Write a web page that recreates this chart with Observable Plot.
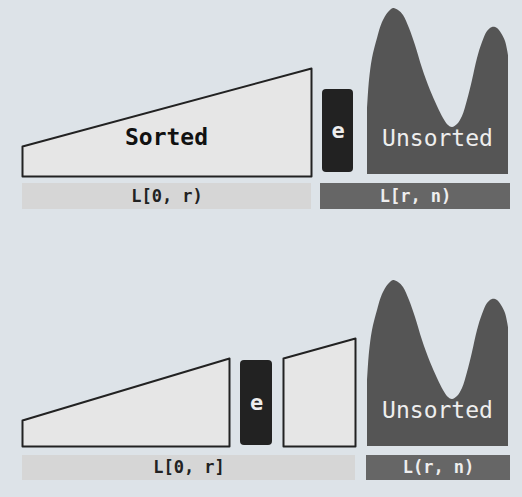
<!DOCTYPE html>
<html><head><meta charset="utf-8">
<script src="https://cdn.jsdelivr.net/npm/d3@7"></script>
<script src="https://cdn.jsdelivr.net/npm/@observablehq/plot@0.6"></script>
<style>body{margin:0;background:#dde3e8;}</style>
</head><body>
<div id="chart"></div>
<script>
// polygons: [id, x, y]
const sortedShapes = [
  ["s1",22,176],["s1",22,146],["s1",311,68],["s1",311,176],
  ["s2",22,446],["s2",22,420],["s2",229,358],["s2",229,446],
  ["s3",283,446],["s3",283,358],["s3",355,338],["s3",355,446]
];
// unsorted outline (top edge), x and y offset per panel
const unsortedX = [367,369,372,377,382,388,393,398,403,409,415,422,430,437,443,448,452,457,462,467,472,477,482,487,492,497,501,505,508];
const unsortedY = [110,80,58,38,22,12,8,10,15,28,45,68,90,106,118,125,127,124,116,100,80,58,42,31,27,28,33,41,55];
const panelOffsets = [0,272];
const eBoxes = [[322,89,353,172],[240,360,272,445]];
const bars = [
  [22,183,311,209,"L[0, r)","#d6d6d6","#222"],
  [320,183,510,209,"L[r, n)","#666","#eee"],
  [22,455,355,480,"L[0, r]","#d6d6d6","#222"],
  [366,455,510,480,"L(r, n)","#666","#eee"]
];
const sortedWord = [[166,137,"Sorted"]];
const unsortedWords = [[437,138,"Unsorted"],[437,410,"Unsorted"]];

const unsorted = panelOffsets.flatMap((o,k) => unsortedX.map((x,i) => ({k, x, y: unsortedY[i]+o, b: 174+o})));
const font = "DejaVu Sans Mono";

const chart = Plot.plot({
  width: 522, height: 497,
  margin: 0,
  style: {background: "#dde3e8", fontFamily: font},
  x: {domain: [0,522], axis: null},
  y: {domain: [0,497], range: [0,497], axis: null},
  marks: [
    Plot.areaY(unsorted, {x: "x", y1: "b", y2: "y", z: "k", fill: "#555", curve: "catmull-rom"}),
    Plot.rect(unsorted.filter(d => d.x === 508), {x1: 500, x2: 508, y1: d => d.y, y2: "b", fill: "#555"}),
    Plot.line(sortedShapes, {x: d => d[1], y: d => d[2], z: d => d[0], fill: "#e6e6e6", stroke: "#222", strokeWidth: 2, curve: "linear-closed"}),
    Plot.rect(eBoxes, {x1: d => d[0], y1: d => d[1], x2: d => d[2], y2: d => d[3], fill: "#222", rx: 4}),
    Plot.text(eBoxes, {x: d => (d[0]+d[2])/2, y: d => (d[1]+d[3])/2, text: () => "e", fill: "#eee", fontSize: 22, fontWeight: "bold"}),
    Plot.rect(bars, {x1: d => d[0], y1: d => d[1], x2: d => d[2], y2: d => d[3], fill: d => d[5]}),
    Plot.text(bars, {x: d => (d[0]+d[2])/2, y: d => (d[1]+d[3])/2, text: d => d[4], fill: d => d[6], fontSize: 17, fontWeight: "bold"}),
    Plot.text(sortedWord, {x: d => d[0], y: d => d[1], text: d => d[2], fill: "#111", fontWeight: "bold", fontSize: 23}),
    Plot.text(unsortedWords, {x: d => d[0], y: d => d[1], text: d => d[2], fill: "#eee", fontSize: 23})
  ]
});
document.getElementById("chart").append(chart);
</script>
</body></html>
